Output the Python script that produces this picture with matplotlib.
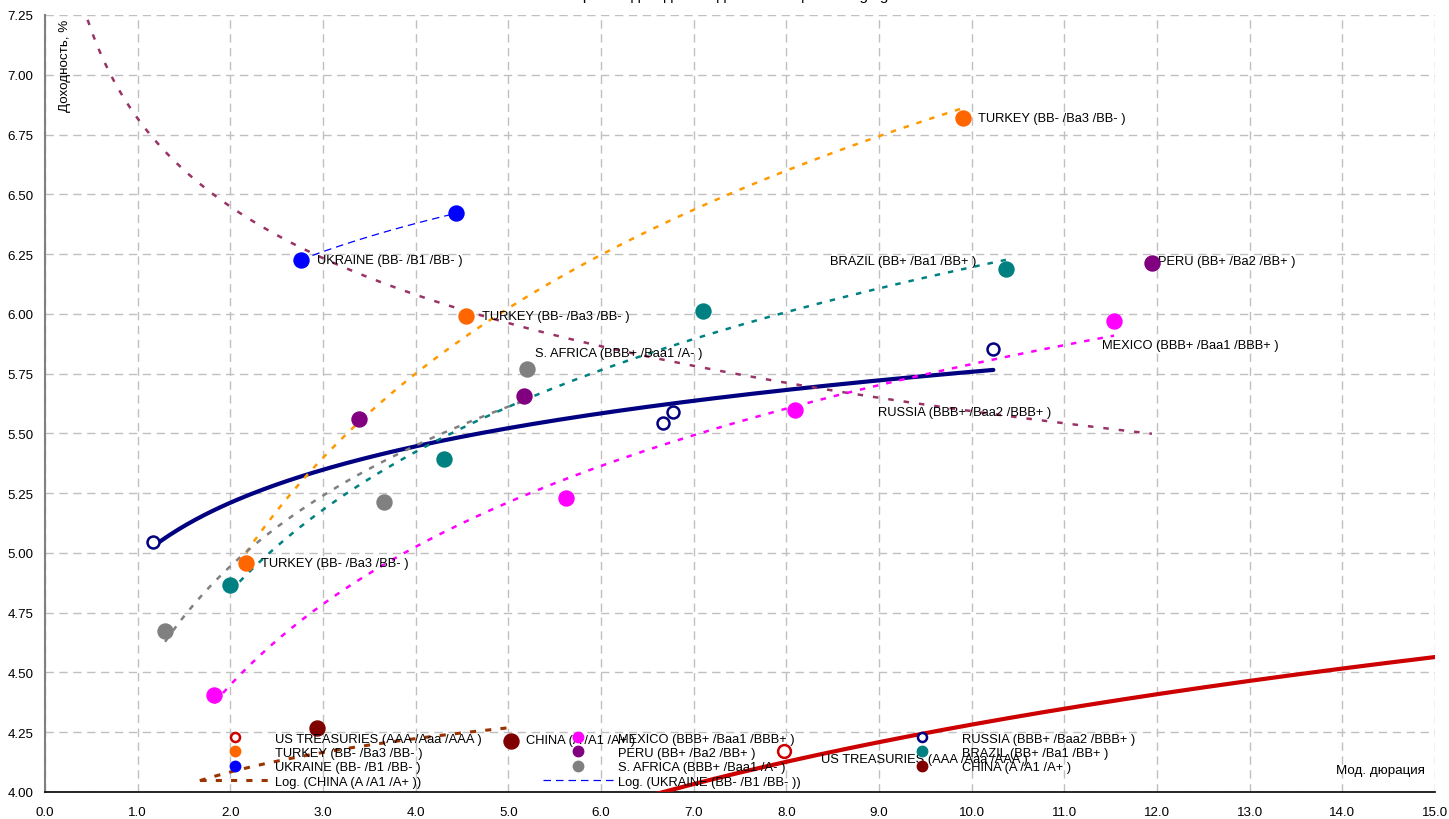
import numpy as np
import matplotlib
matplotlib.use("Agg")
import matplotlib.pyplot as plt
from matplotlib.lines import Line2D
from matplotlib.legend import Legend

plt.rcParams['font.family'] = ['Liberation Sans', 'DejaVu Sans']

# ---- bond data: modified duration (x) and yield, % (y) ----
ukraine_x = [2.76, 4.43]
ukraine_y = [6.226, 6.42]
turkey_x = [2.17, 4.54, 9.91]
turkey_y = [4.958, 5.99, 6.82]
brazil_x = [2.00, 4.31, 7.10, 10.37]
brazil_y = [4.864, 5.393, 6.012, 6.188]
peru_x = [3.39, 5.165, 11.945]
peru_y = [5.561, 5.658, 6.213]
safrica_x = [1.296, 3.661, 5.202]
safrica_y = [4.672, 5.212, 5.770]
mexico_x = [1.825, 5.626, 8.095, 11.537]
mexico_y = [4.406, 5.230, 5.596, 5.972]
russia_x = [1.163, 6.666, 6.778, 10.234]
russia_y = [5.047, 5.544, 5.591, 5.854]
china_x = [2.934, 5.029]
china_y = [4.266, 4.215]
ust_x = [7.973]
ust_y = [4.170]

# logarithmic trend curves y = a + b*ln(x) whose source points lie partly off-scale
china_trend = {'a': 3.944, 'b': 0.2016, 'x0': 1.67, 'x1': 5.00}
peru_trend = {'a': 6.817, 'b': -0.5316, 'x0': 0.46, 'x1': 11.945}
ust_trend = {'a': 2.677, 'b': 0.697, 'x0': 6.0, 'x1': 15.0}

x_ticks = np.arange(0, 15.01, 1.0)
y_ticks = np.arange(4.0, 7.2501, 0.25)

labels = {
    'US': 'US TREASURIES (AAA /Aaa /AAA )',
    'TR': 'TURKEY (BB- /Ba3 /BB- )',
    'UA': 'UKRAINE (BB- /B1 /BB- )',
    'MX': 'MEXICO (BBB+ /Baa1 /BBB+ )',
    'PE': 'PERU (BB+ /Ba2 /BB+ )',
    'ZA': 'S. AFRICA (BBB+ /Baa1 /A- )',
    'RU': 'RUSSIA (BBB+ /Baa2 /BBB+ )',
    'BR': 'BRAZIL (BB+ /Ba1 /BB+ )',
    'CN': 'CHINA (A /A1 /A+ )',
}

C_US = '#CC0000'
C_TR = '#FF6600'
C_TR_LINE = '#FF9900'
C_UA = '#0000FF'
C_MX = '#FF00FF'
C_PE = '#800080'
C_PE_LINE = '#993366'
C_ZA = '#808080'
C_RU = '#000080'
C_BR = '#008080'
C_CN = '#800000'
C_CN_LINE = '#993300'

FS = 9.3
FS_AX = 9.6


def log_fit(xs, ys):
    b, a = np.polyfit(np.log(xs), ys, 1)
    return a, b


def log_curve(a, b, x0, x1):
    xx = np.linspace(x0, x1, 200)
    return xx, a + b * np.log(xx)


fig = plt.figure(figsize=(14.49, 8.20), dpi=100)
ax = fig.add_axes([45 / 1449, 1 - 793 / 820, 1390 / 1449, 777 / 820])

ax.set_xlim(0, 15)
ax.set_ylim(4.0, 7.25)
ax.set_xticks(x_ticks)
ax.set_yticks(y_ticks)
ax.set_xticklabels([f'{v:.1f}' for v in x_ticks], fontsize=FS_AX)
ax.set_yticklabels([f'{v:.2f}' for v in y_ticks], fontsize=FS_AX)
ax.tick_params(axis='both', length=0)
ax.tick_params(axis='x', pad=10)
ax.tick_params(axis='y', pad=8.5)
ax.grid(True, color='#C0C0C0', linestyle=(0, (6, 4)), linewidth=1.0)
ax.set_axisbelow(True)
for s in ('top', 'right'):
    ax.spines[s].set_visible(False)
ax.spines['left'].set_color('#808080')
ax.spines['left'].set_linewidth(1.5)
ax.spines['bottom'].set_color('black')
ax.spines['bottom'].set_linewidth(1.2)

# ---- trend curves ----
dot = (0, (2.2, 3.2))
xx, yy = log_curve(ust_trend['a'], ust_trend['b'], ust_trend['x0'], ust_trend['x1'])
ax.plot(xx, yy, color=C_US, lw=3.0, zorder=3)

a, b = log_fit(russia_x, russia_y)
xx, yy = log_curve(a, b, min(russia_x), max(russia_x))
ax.plot(xx, yy, color=C_RU, lw=3.0, zorder=3, solid_capstyle='round')

xx, yy = log_curve(peru_trend['a'], peru_trend['b'], peru_trend['x0'], peru_trend['x1'])
ax.plot(xx, yy, color=C_PE_LINE, lw=1.8, linestyle=(0, (2.2, 4.0)), zorder=3)

xx, yy = log_curve(china_trend['a'], china_trend['b'], china_trend['x0'], china_trend['x1'])
ax.plot(xx, yy, color=C_CN_LINE, lw=2.2, linestyle=(0, (2.0, 3.0)), zorder=3)

for xs, ys, col in [(turkey_x, turkey_y, C_TR_LINE), (brazil_x, brazil_y, C_BR),
                    (safrica_x, safrica_y, C_ZA), (mexico_x, mexico_y, C_MX)]:
    a, b = log_fit(xs, ys)
    xx, yy = log_curve(a, b, min(xs), max(xs))
    ax.plot(xx, yy, color=col, lw=1.8, linestyle=dot, zorder=3)

a, b = log_fit(ukraine_x, ukraine_y)
xx, yy = log_curve(a, b, min(ukraine_x), max(ukraine_x))
ax.plot(xx, yy, color=C_UA, lw=0.9, linestyle=(0, (6, 4)), zorder=3)

# ---- points ----
MS = 10.8
filled = [(turkey_x, turkey_y, C_TR), (ukraine_x, ukraine_y, C_UA), (mexico_x, mexico_y, C_MX),
          (peru_x, peru_y, C_PE), (safrica_x, safrica_y, C_ZA), (brazil_x, brazil_y, C_BR),
          (china_x, china_y, C_CN)]
for xs, ys, col in filled:
    ax.plot(xs, ys, 'o', color=col, ms=MS, mec=col, zorder=5, linestyle='none')
ax.plot(russia_x, russia_y, 'o', mfc='white', mec=C_RU, ms=8.6, mew=1.8, zorder=5, linestyle='none')
ax.plot(ust_x, ust_y, 'o', mfc='white', mec=C_US, ms=9.2, mew=1.8, zorder=5, linestyle='none')

# ---- data labels ----
def tag(x, y, text, dx, dy, ha='left'):
    ax.annotate(text, (x, y), xytext=(dx, dy), textcoords='offset pixels',
                ha=ha, va='center', fontsize=FS, color='black', zorder=4)

tag(ukraine_x[0], ukraine_y[0], labels['UA'], 16, 0)
tag(turkey_x[0], turkey_y[0], labels['TR'], 15, 0)
tag(turkey_x[1], turkey_y[1], labels['TR'], 16, 0)
tag(turkey_x[2], turkey_y[2], labels['TR'], 15, 0)
tag(brazil_x[3], brazil_y[3], labels['BR'], -30, 8, ha='right')
tag(peru_x[2], peru_y[2], labels['PE'], 6, 2)
tag(safrica_x[2], safrica_y[2], labels['ZA'], 8, 16)
tag(mexico_x[3], mexico_y[3], labels['MX'], -12, -24)
tag(russia_x[3], russia_y[3], labels['RU'], -115, -63)
tag(china_x[1], china_y[1], labels['CN'], 15, 1)
tag(ust_x[0], ust_y[0], labels['US'], 37, -8)

# ---- axis captions ----
ax.text((65 - 45) / 1390, (793 - 20) / 777, 'Доходность, %', rotation=90,
        transform=ax.transAxes, ha='center', va='top', fontsize=FS_AX)
ax.text((1425 - 45) / 1390, (793 - 771) / 777, 'Мод. дюрация',
        transform=ax.transAxes, ha='right', va='center', fontsize=FS_AX)

fig.text(760 / 1449, 1 + 0.5 / 820, 'Кривые доходности для облигаций emerging markets',
         ha='center', va='baseline', fontsize=11)

# ---- legend (three columns) ----
def mk(col, open_=False):
    if open_:
        return Line2D([], [], marker='o', linestyle='none', mfc='white', mec=col, ms=6.5, mew=1.8)
    return Line2D([], [], marker='o', linestyle='none', color=col, ms=7.5)

cols = [
    ([mk(C_US, True), mk(C_TR), mk(C_UA),
      Line2D([], [], color=C_CN_LINE, lw=2.2, linestyle=(0, (2.0, 3.0)))],
     [labels['US'], labels['TR'], labels['UA'], 'Log. (' + labels['CN'] + ')'], 200),
    ([mk(C_MX), mk(C_PE), mk(C_ZA),
      Line2D([], [], color=C_UA, lw=0.9, linestyle=(0, (6, 4)))],
     [labels['MX'], labels['PE'], labels['ZA'], 'Log. (' + labels['UA'] + ')'], 543),
    ([mk(C_RU, True), mk(C_BR), mk(C_CN)],
     [labels['RU'], labels['BR'], labels['CN']], 887),
]
for handles, texts, px in cols:
    leg = Legend(ax, handles, texts, loc='upper left',
                 bbox_to_anchor=((px - 45) / 1390, (793 - 733.5) / 777),
                 bbox_transform=ax.transAxes,
                 frameon=False, fontsize=FS, borderpad=0, borderaxespad=0,
                 handlelength=5.4, handletextpad=0.39, labelspacing=0.18)
    leg.set_zorder(6)
    ax.add_artist(leg)

fig.savefig('out.png', dpi=100)
